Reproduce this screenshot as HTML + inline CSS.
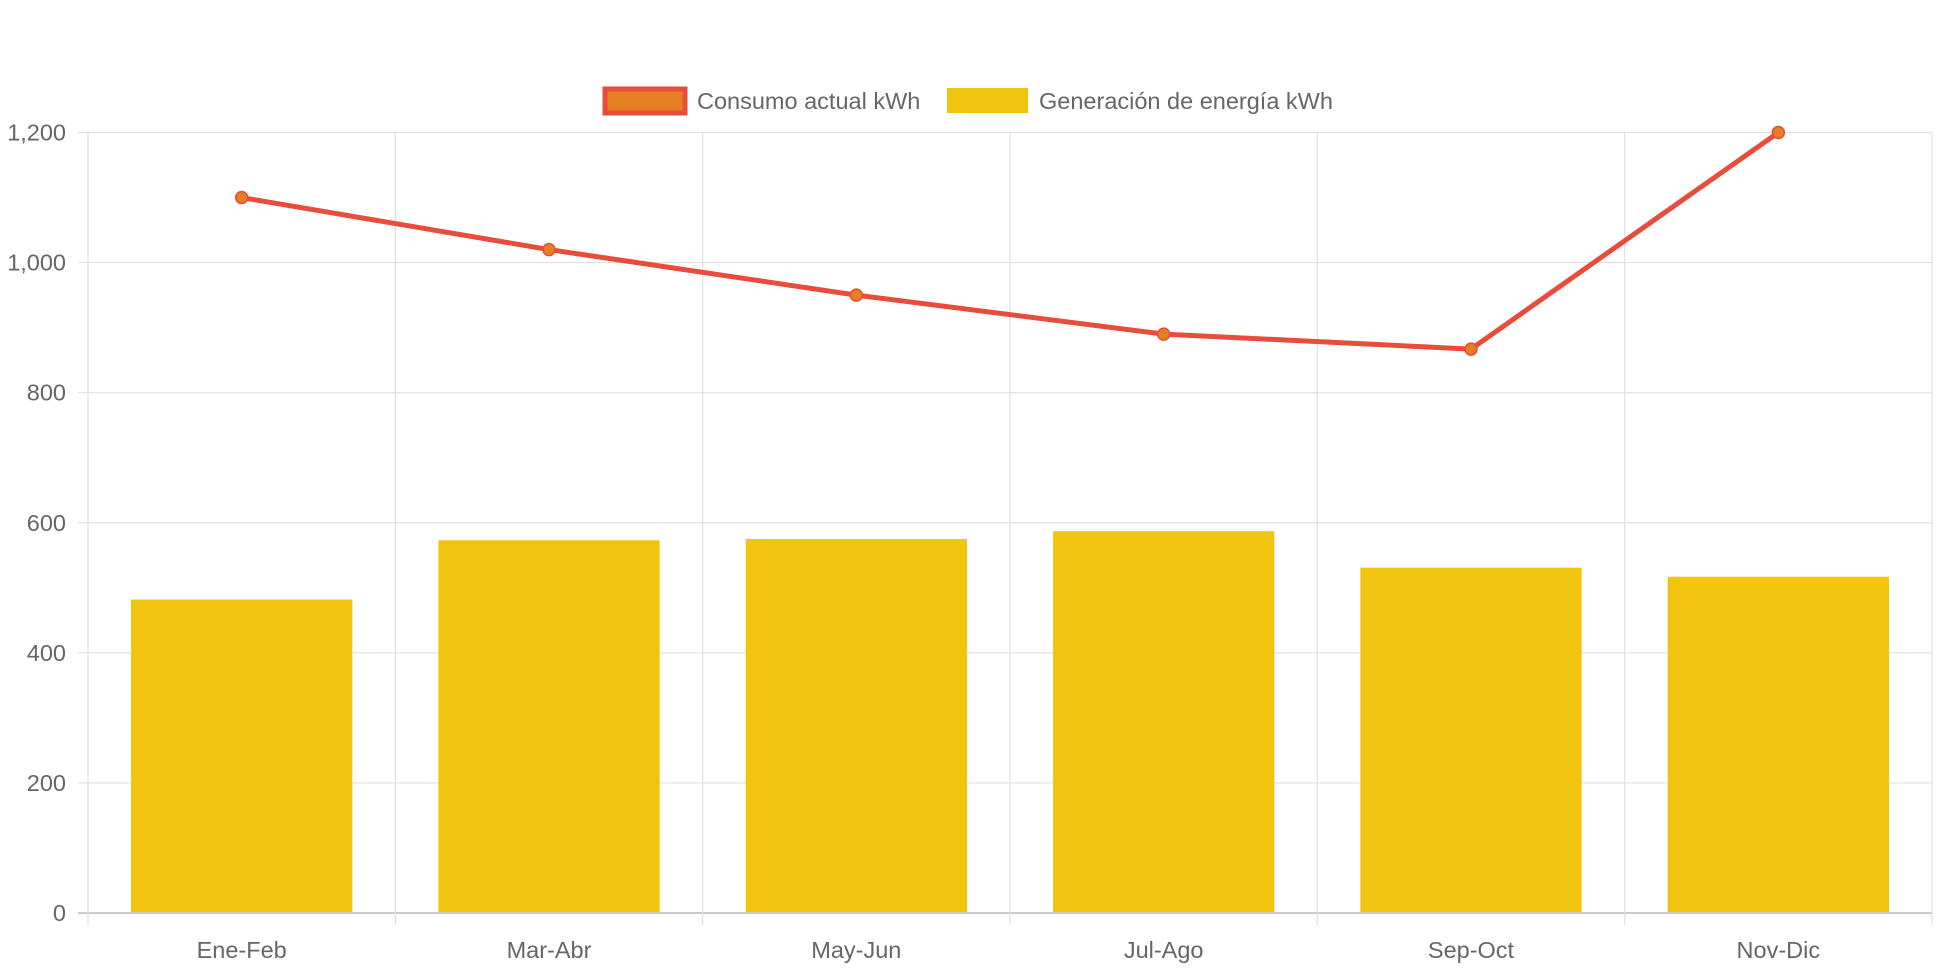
<!DOCTYPE html>
<html><head><meta charset="utf-8"><style>
html,body{margin:0;padding:0;background:#fff;width:1942px;height:970px;overflow:hidden}
svg{display:block}
text{font-family:"Liberation Sans",sans-serif;fill:#666}
</style></head><body>
<svg id="chart" width="1942" height="970" xmlns="http://www.w3.org/2000/svg">
<g>
<rect x="605" y="89" width="80" height="24" fill="#e67e22" stroke="#e74c3c" stroke-width="5"/>
<text x="697" y="109" font-size="23.5">Consumo actual kWh</text>
<rect x="947" y="88" width="81" height="25" fill="#f1c40f"/>
<text x="1039" y="109" font-size="23.5">Generación de energía kWh</text>
</g>
<g id="grid"></g><g id="bars"></g><g id="line"></g><g id="labels"></g>
</svg>
<script>
const categories=["Ene-Feb","Mar-Abr","May-Jun","Jul-Ago","Sep-Oct","Nov-Dic"];
const consumo=[1100,1020,950,890,867,1200];
const generacion=[482,573,575,587,531,517];
const yTicks=[0,200,400,600,800,1000,1200];
const L=88,R=1932,T=132.5,B=913,YMAX=1200;
const NS="http://www.w3.org/2000/svg";
const band=(R-L)/categories.length;
const x=i=>L+band*(i+0.5);
const y=v=>B-(v/YMAX)*(B-T);
function mk(tag,attrs,parent){const e=document.createElementNS(NS,tag);for(const k in attrs)e.setAttribute(k,attrs[k]);document.getElementById(parent).appendChild(e);return e;}
yTicks.forEach(t=>{
 const g=mk('line',{x1:L-10,x2:R,y1:y(t),y2:y(t),stroke:t===0?'#ccc':'#e0e0e0','stroke-width':t===0?2:1.2},'grid');
 
 
 const tx=mk('text',{x:66,y:y(t)+8,'text-anchor':'end','font-size':23.5},'labels');
 tx.textContent=t.toLocaleString('en-US');
 
 
});
for(let i=0;i<=categories.length;i++){
 const g=mk('line',{x1:L+band*i,x2:L+band*i,y1:T,y2:B+12,stroke:'#e0e0e0','stroke-width':1.2},'grid');
 
 
}
const bw=band*0.72;
generacion.forEach((v,i)=>{
 const r=mk('rect',{x:x(i)-bw/2,y:y(v),width:bw,height:B-y(v)-1,fill:'#f1c40f'},'bars');
 
 
});
const pts=consumo.map((v,i)=>x(i)+','+y(v)).join(' ');
const pl=mk('polyline',{points:pts,fill:'none',stroke:'#e74c3c','stroke-width':5,'stroke-linejoin':'round'},'line');


consumo.forEach((v,i)=>{
 const c=mk('circle',{cx:x(i),cy:y(v),r:6,fill:'#e67e22',stroke:'#e74c3c','stroke-width':1.5},'line');
 
 
});
categories.forEach((c,i)=>{
 const t=mk('text',{x:x(i),y:958,'text-anchor':'middle','font-size':23.5},'labels');
 t.textContent=c;
 
 
});
</script>
</body></html>
